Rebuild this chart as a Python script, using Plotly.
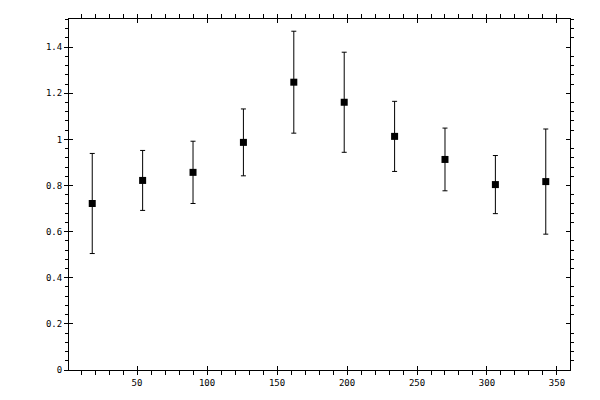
import plotly.graph_objects as go

angle = [18, 54, 90, 126, 162, 198, 234, 270, 306, 342]
value = [0.722, 0.822, 0.857, 0.987, 1.248, 1.161, 1.013, 0.913, 0.804, 0.817]
error = [0.217, 0.130, 0.135, 0.145, 0.221, 0.217, 0.152, 0.136, 0.126, 0.228]

x_range = [1.4, 359.3]
y_range = [0, 1.522]

tickfont = dict(family="DejaVu Sans Mono", size=9, color="black")

fig = go.Figure()
fig.add_trace(go.Scatter(
    x=angle, y=value, mode="markers",
    marker=dict(symbol="square", size=7, color="black"),
    error_y=dict(type="data", array=error, color="black", thickness=1, width=2.5),
    showlegend=False, cliponaxis=False,
))
# empty traces so the extra tick axes get drawn
fig.add_trace(go.Scatter(x=[], y=[], xaxis="x2", yaxis="y3", showlegend=False))
fig.add_trace(go.Scatter(x=[], y=[], xaxis="x", yaxis="y2", showlegend=False))

axis_common = dict(showgrid=False, zeroline=False, showline=True, automargin=False,
                   linecolor="black", linewidth=1, tickcolor="black", tickwidth=1)

# page body has an 8px margin, so the plot margins are shifted to compensate
fig.update_layout(
    width=600, height=400,
    margin=dict(l=61, r=38, t=11, b=38),
    plot_bgcolor="white", paper_bgcolor="white",
    xaxis=dict(range=x_range, tick0=0, dtick=50, ticks="outside", ticklen=4,
               minor=dict(dtick=10, ticks="outside", ticklen=3, tickcolor="black"),
               mirror="allticks", tickfont=tickfont, **axis_common),
    xaxis2=dict(range=x_range, overlaying="x", anchor="y", tick0=0, dtick=50,
                ticks="inside", ticklen=4, mirror="ticks", showticklabels=False,
                **axis_common),
    yaxis=dict(range=y_range, tick0=0, dtick=0.2, ticks="outside", ticklen=4,
               minor=dict(dtick=0.04, ticks="outside", ticklen=3, tickcolor="black"),
               tickfont=tickfont, tickformat="~g", **axis_common),
    yaxis2=dict(range=y_range, overlaying="y", side="right", anchor="x",
                tick0=0, dtick=0.2, ticks="outside", ticklen=0,
                minor=dict(dtick=0.04, ticks="outside", ticklen=3, tickcolor="black"),
                showticklabels=False, **axis_common),
    yaxis3=dict(range=y_range, overlaying="y", anchor="x2", tick0=0, dtick=0.2,
                ticks="inside", ticklen=4, mirror="ticks", showticklabels=False,
                **axis_common),
)

fig.write_html("out.html")
